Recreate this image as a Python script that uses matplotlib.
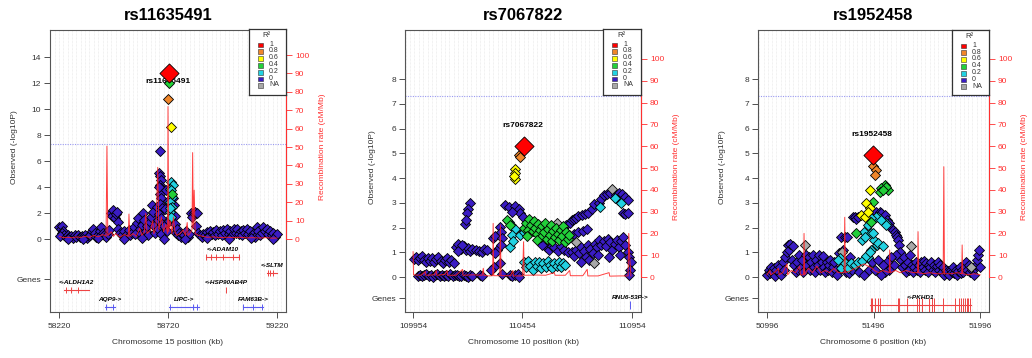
import numpy as np
import matplotlib
matplotlib.use("Agg")
import matplotlib.pyplot as plt
from matplotlib.patches import Rectangle

plt.rcParams['font.family'] = ['Liberation Sans', 'DejaVu Sans']

W, H = 1032, 358

# ---------------- legend categories ----------------
LD_LABELS = ["1", "0.8", "0.6", "0.4", "0.2", "0", "NA"]
LD_COLORS = ['#FF0000', '#F0862A', '#FFFF00', '#22D03A', '#22D2E2', '#3A1CC4', '#A8A8A8']

# ---------------- panel 1 : rs11635491, chr15 ----------------
p1_title = "rs11635491"
p1_chrom = "15"
p1_xticks = [58220, 58720, 59220]
p1_lead = (58725, 12.75)
p1_orange = [(58720, 10.8)]
p1_yellow = [(58734, 8.6)]
p1_green = [(58740, 3.51), (58725, 12.0)]
p1_cyan = [(58732, 4.41), (58741, 4.15), (58729, 3.82), (58737, 3.25), (58729, 2.87),
           (58737, 2.48), (58729, 2.1), (58732, 1.67), (58735, 3.77), (58730, 2.36)]
p1_na = []
p1_blue = [(58222, 0.9), (58228, 0.75), (58234, 1.0), (58238, 0.6), (58232, 0.45), (58244, 0.35),
           (58226, 0.25), (58252, 0.2), (58260, 0.3), (58268, 0.15), (58276, 0.25), (58284, 0.1),
           (58292, 0.3), (58300, 0.2), (58308, 0.35), (58316, 0.15), (58324, 0.25), (58332, 0.2),
           (58340, 0.3), (58348, 0.1), (58356, 0.25), (58364, 0.35), (58372, 0.6), (58378, 0.8),
           (58384, 0.5), (58392, 0.2), (58400, 0.35), (58408, 0.6), (58414, 0.9), (58420, 0.5),
           (58428, 0.3), (58436, 0.15), (58444, 0.4), (58450, 0.7), (58458, 2.02), (58464, 1.77),
           (58469, 2.23), (58476, 1.59), (58480, 1.9), (58485, 2.1), (58490, 1.33), (58492, 0.8),
           (58500, 0.5), (58508, 0.3), (58516, 0.6), (58524, 0.2), (58532, 0.4), (58540, 0.7),
           (58548, 0.3), (58556, 0.5), (58562, 0.9), (58570, 0.4), (58578, 1.26), (58584, 1.59),
           (58590, 0.8), (58596, 0.4), (58602, 1.1), (58607, 2.02), (58612, 1.5), (58618, 0.6),
           (58624, 1.0), (58630, 0.3), (58636, 1.3), (58641, 1.72), (58645, 2.6), (58650, 2.1),
           (58656, 1.0), (58662, 0.5), (58668, 2.48), (58672, 1.5), (58676, 0.8),
           (58680, 5.05), (58684, 4.85), (58688, 4.54), (58682, 4.15), (58690, 3.9), (58684, 3.51),
           (58688, 3.13), (58682, 2.74), (58692, 2.36), (58680, 1.97), (58688, 1.59), (58694, 1.2),
           (58696, 0.82), (58684, 6.77), (58678, 4.03), (58686, 0.4),
           (58700, 1.0), (58706, 2.3), (58712, 3.8), (58716, 0.6), (58718, 2.9), (58724, 1.4),
           (58745, 3.2), (58748, 2.6), (58750, 1.8), (58752, 1.2), (58756, 0.5), (58760, 0.8),
           (58764, 0.3), (58770, 0.5), (58778, 0.2), (58786, 0.4), (58794, 0.3), (58802, 0.6),
           (58810, 0.2), (58818, 0.4), (58825, 2.02), (58832, 1.72), (58839, 2.03), (58845, 2.1),
           (58852, 2.02), (58848, 1.0), (58858, 0.5), (58866, 0.3), (58874, 0.2), (58882, 0.4),
           (58890, 0.3), (58898, 0.55), (58906, 0.3), (58914, 0.6), (58920, 0.4), (58926, 0.56),
           (58934, 0.3), (58942, 0.7), (58950, 0.4), (58958, 0.6), (58966, 0.3), (58974, 0.7),
           (58982, 0.5), (58990, 0.8), (58998, 0.4), (59006, 0.6), (59014, 0.3), (59022, 0.75),
           (59030, 0.5), (59038, 0.8), (59046, 0.4), (59054, 0.65), (59060, 0.3), (59065, 0.74),
           (59072, 0.5), (59080, 0.8), (59088, 0.4), (59096, 0.6), (59104, 0.3), (59112, 0.5),
           (59120, 0.2), (59126, 0.95), (59134, 0.6), (59142, 0.3), (59150, 0.5), (59157, 0.9),
           (59164, 0.6), (59172, 0.75), (59180, 0.4), (59188, 0.6), (59196, 0.3), (59203, 0.48),
           (59210, 0.2), (59218, 0.4), (58260, 0.05), (58330, 0.02), (58400, 0.08), (58520, 0.05),
           (58600, 0.1), (58700, 0.05), (58800, 0.03), (58900, 0.08), (59000, 0.05), (59100, 0.06),
           (59200, 0.04)]
p1_recomb = [(58222, 1.5), (58240, 0.8), (58260, 1.0), (58280, 0.7), (58300, 1.2), (58320, 0.9),
             (58340, 1.5), (58360, 1.0), (58380, 2.0), (58400, 1.2), (58420, 2.5), (58436, 1.5),
             (58440, 50.5), (58444, 2.0), (58460, 4), (58470, 1.5), (58480, 3), (58500, 1.0),
             (58520, 2.5), (58538, 1.5), (58541, 13.6), (58545, 1.5), (58560, 3), (58575, 1.5),
             (58590, 6), (58600, 2), (58612, 4), (58618, 14), (58624, 3), (58640, 5), (58650, 10),
             (58655, 3), (58665, 6), (58673, 39), (58678, 5), (58690, 12), (58700, 4), (58710, 8),
             (58718, 3), (58720, 72), (58723, 4), (58730, 10), (58738, 3), (58745, 12), (58752, 4),
             (58760, 2), (58775, 3), (58790, 5), (58800, 2), (58808, 9), (58812, 2), (58820, 3),
             (58830, 5), (58833, 47), (58836, 6), (58840, 26.6), (58845, 3), (58860, 2),
             (58880, 1.5), (58900, 1.0), (58930, 1.2), (58960, 0.8), (58990, 1.0), (59020, 0.8),
             (59050, 1.0), (59080, 0.7), (59110, 0.8), (59140, 0.6), (59170, 0.8), (59200, 0.5),
             (59220, 0.6)]
p1_genes = [("ADAM10", 58894, 59046, "-", [58893, 58916, 58940, 58974, 59020, 59046]),
            ("SLTM", 59174, 59220, "-", [59178, 59189, 59200]),
            ("ALDH1A2", 58243, 58358, "-", [58252, 58274, 58306]),
            ("HSP90AB4P", 58985, 58987, "-", [58986]),
            ("AQP9", 58431, 58477, "+", [58436, 58469]),
            ("LIPC", 58725, 58862, "+", [58729, 58836, 58852]),
            ("FAM63B", 59064, 59156, "+", [59065, 59111, 59150])]
p1_gene_y = [-1.38, -2.6, -3.9, -3.9, -5.2, -5.2, -5.2]

# ---------------- panel 2 : rs7067822, chr10 ----------------
p2_title = "rs7067822"
p2_chrom = "10"
p2_xticks = [109954, 110454, 110954]
p2_lead = (110459, 5.29)
p2_orange = [(110440, 4.93), (110444, 4.85)]
p2_yellow = [(110420, 4.35), (110422, 4.2), (110418, 3.95), (110416, 4.08)]
p2_green = [(110460, 2.0), (110470, 2.2), (110478, 1.9), (110485, 2.35), (110492, 2.1), (110500, 1.85),
            (110505, 2.25), (110512, 2.0), (110520, 1.75), (110525, 2.15), (110532, 1.9), (110540, 1.6),
            (110545, 2.05), (110552, 1.8), (110558, 2.2), (110565, 1.55), (110570, 1.95), (110578, 1.7),
            (110585, 2.1), (110590, 1.45), (110595, 1.85), (110602, 1.6), (110608, 2.0), (110615, 1.75),
            (110622, 1.5), (110628, 1.9), (110635, 1.65), (110640, 2.05), (110648, 1.4), (110655, 1.8),
            (110662, 1.55), (110668, 1.7), (110520, 1.5), (110475, 1.65), (110384, 2.3), (110395, 2.1)]
p2_cyan = [(110391, 2.23), (110403, 2.1), (110422, 1.95), (110407, 1.7), (110399, 1.22), (110444, 1.70),
           (110463, 1.83), (110410, 1.45), (110460, 0.6), (110470, 0.4), (110480, 0.65), (110490, 0.45),
           (110500, 0.3), (110510, 0.6), (110520, 0.45), (110530, 0.62), (110540, 0.35), (110550, 0.55),
           (110560, 0.42), (110570, 0.65), (110580, 0.5), (110590, 0.35), (110600, 0.58), (110610, 0.45),
           (110620, 0.6), (110630, 0.4), (110640, 0.55), (110650, 0.5), (110810, 2.84), (110878, 3.18),
           (110905, 2.98)]
p2_na = [(110865, 3.54), (110697, 1.43), (110780, 0.56), (110613, 2.2)]
p2_blue = [(109958, 0.72), (109966, 0.82), (109975, 0.68), (109984, 0.78), (109993, 0.85), (110002, 0.7),
           (110012, 0.62), (110022, 0.75), (110032, 0.66), (110040, 0.78), (110048, 0.6), (110060, 0.72),
           (110070, 0.8), (110080, 0.65), (110090, 0.58), (110100, 0.7), (110110, 0.75), (110118, 0.6),
           (110128, 0.68), (110140, 0.55),
           (109975, 0.05), (109985, 0.1), (109995, 0.03), (110005, 0.08), (110015, 0.12), (110025, 0.05),
           (110035, 0.1), (110045, 0.02), (110055, 0.08), (110065, 0.12), (110075, 0.05), (110085, 0.09),
           (110095, 0.03), (110105, 0.1), (110115, 0.06), (110125, 0.12), (110135, 0.04), (110145, 0.08),
           (110155, 0.1), (110165, 0.05), (110175, 0.03), (110185, 0.08), (110195, 0.05), (110205, 0.02),
           (110215, 0.07), (110225, 0.04), (110260, 0.1), (110270, 0.05),
           (110150, 1.2), (110160, 1.35), (110172, 1.15), (110185, 1.25), (110195, 1.1), (110205, 1.18),
           (110215, 1.05), (110225, 1.15), (110240, 1.1), (110255, 1.05), (110268, 1.0), (110280, 1.12),
           (110292, 1.08), (110158, 1.05), (110178, 1.3),
           (110212, 3.0), (110205, 2.75), (110200, 2.57), (110193, 2.14), (110197, 2.3),
           (110318, 1.56), (110327, 1.66), (110338, 1.09), (110330, 0.95), (110322, 0.42), (110310, 0.3),
           (110353, 2.03), (110357, 1.83), (110360, 1.56), (110356, 1.29), (110353, 0.55), (110360, 0.12),
           (110376, 2.91), (110391, 2.84), (110422, 2.87), (110437, 2.73), (110445, 2.57), (110407, 2.64),
           (110455, 2.44), (110395, 0.1), (110407, 0.05), (110420, 0.08), (110432, 0.12), (110440, 0.02),
           (110560, 1.2), (110575, 1.1), (110590, 1.25), (110600, 1.2), (110615, 1.05), (110630, 1.25),
           (110645, 1.1), (110660, 1.0), (110545, 1.3),
           (110610, 1.75), (110625, 1.9), (110640, 2.0), (110655, 2.1), (110670, 2.2), (110680, 2.3),
           (110690, 2.35), (110700, 2.4), (110710, 2.45), (110725, 2.5), (110740, 2.55), (110755, 2.6),
           (110770, 2.75), (110782, 2.95),
           (110650, 1.6), (110665, 1.7), (110690, 1.75), (110710, 1.8), (110730, 1.85), (110748, 1.95),
           (110803, 3.0), (110815, 3.15), (110825, 3.3), (110840, 3.35), (110855, 3.4), (110880, 3.3),
           (110895, 3.4), (110910, 3.35), (110925, 3.25), (110935, 3.1), (110915, 2.6), (110925, 2.55),
           (110935, 2.6), (110890, 3.1),
           (110680, 1.0), (110690, 0.85), (110700, 1.1), (110712, 0.95), (110722, 1.2), (110735, 1.05),
           (110745, 0.8), (110755, 1.3), (110765, 1.15), (110775, 0.95), (110785, 1.35), (110795, 1.2),
           (110805, 1.5), (110815, 1.3), (110825, 1.45), (110835, 1.25), (110845, 1.55), (110855, 1.4),
           (110865, 1.1), (110875, 1.35), (110885, 1.5), (110895, 1.2), (110905, 1.45), (110915, 1.6),
           (110925, 1.3), (110935, 1.0), (110942, 0.8), (110948, 0.6), (110945, 0.3), (110940, 0.1),
           (110760, 0.7), (110800, 0.9), (110850, 0.8), (110900, 0.9), (110720, 0.6)]
p2_recomb = [(109954, 11.6), (109956, 1), (109990, 0.8), (110010, 2.5), (110012, 0.8), (110050, 1),
             (110060, 3), (110062, 0.8), (110100, 1.2), (110110, 3), (110112, 0.8), (110150, 0.8),
             (110180, 3.5), (110182, 0.8), (110230, 1), (110270, 0.8), (110275, 4), (110278, 0.8),
             (110300, 0.5), (110318, 0.6), (110320, 24.6), (110323, 0.6), (110340, 0.6), (110350, 0.6),
             (110353, 23.9), (110356, 0.6), (110400, 0.6), (110410, 3), (110413, 0.5), (110455, 0.5),
             (110459, 16.2), (110462, 0.8), (110520, 0.9), (110560, 0.8), (110600, 2), (110603, 0.8),
             (110650, 0.8), (110670, 3), (110673, 0.6), (110730, 0.6), (110750, 3.5), (110753, 0.5),
             (110800, 0.5), (110850, 2), (110853, 0.4), (110900, 0.5), (110937, 0.5), (110940, 20),
             (110945, 8), (110950, 0.5)]
p2_genes = [("RNU6-53P", 110944, 110947, "+", [110945])]
p2_gene_y = [-1.13]

# ---------------- panel 3 : rs1952458, chr6 ----------------
p3_title = "rs1952458"
p3_chrom = "6"
p3_xticks = [50996, 51496, 51996]
p3_lead = (51494, 4.93)
p3_orange = [(51494, 4.48), (51509, 4.32), (51505, 4.12)]
p3_yellow = [(51478, 3.52), (51462, 2.98), (51478, 2.77), (51439, 2.5), (51455, 2.44), (51470, 2.64)]
p3_green = [(51549, 3.72), (51533, 3.58), (51565, 3.52), (51555, 3.62), (51527, 3.45), (51494, 3.04),
            (51483, 2.24), (51415, 1.79), (51540, 3.5)]
p3_cyan = [(51337, 0.75), (51345, 0.35), (51360, 0.55), (51376, 0.35), (51392, 0.55), (51408, 0.48),
           (51423, 0.62), (51443, 0.66), (51470, 0.82), (51485, 1.09), (51496, 1.49), (51512, 1.29),
           (51441, 1.49), (51451, 1.83), (51482, 1.76), (51515, 2.44), (51554, 2.17), (51509, 2.44),
           (51532, 2.3), (51556, 2.1), (51486, 2.37), (51470, 2.1), (51494, 1.76), (51455, 1.63),
           (51517, 1.37), (51540, 1.24), (51329, 0.69), (51462, 0.85), (51478, 1.0)]
p3_na = [(51173, 1.29), (51671, 1.27), (51350, 1.02), (51955, 0.42)]
p3_blue = [(50998, 0.1), (51004, 0.3), (51010, 0.15), (51016, 0.4), (51022, 0.2), (51028, 0.35),
           (51034, 0.05), (51040, 0.3), (51046, 0.5), (51052, 0.2), (51058, 0.4), (51064, 0.1),
           (51070, 0.6), (51076, 0.3), (51082, 0.8), (51088, 1.0), (51095, 1.3), (51100, 1.1),
           (51105, 1.35), (51112, 0.7), (51118, 1.25), (51124, 0.5), (51130, 0.2), (51136, 0.6),
           (51142, 0.3), (51148, 0.9), (51154, 0.4), (51160, 0.7), (51166, 0.2), (51180, 0.9),
           (51186, 0.5), (51192, 0.8), (51198, 0.3), (51204, 0.6), (51210, 0.9), (51216, 0.4),
           (51222, 0.2), (51228, 0.7), (51234, 0.5), (51240, 0.9), (51246, 0.3), (51252, 0.6),
           (51258, 0.85), (51264, 0.4), (51270, 0.2), (51276, 0.6), (51282, 0.3), (51288, 0.5),
           (51294, 0.7), (51300, 0.2), (51306, 0.4), (51312, 0.6), (51318, 0.3), (51324, 0.1),
           (51335, 0.95), (51345, 1.63), (51353, 1.09), (51360, 1.63), (51372, 1.6), (51365, 0.2),
           (51380, 0.15), (51385, 0.8), (51395, 0.3), (51400, 2.44), (51408, 2.44), (51416, 2.35),
           (51423, 2.44), (51430, 0.2), (51450, 0.1), (51475, 0.3), (51490, 0.6), (51509, 2.64),
           (51525, 2.64), (51532, 2.6), (51548, 2.5), (51560, 2.3), (51571, 2.17), (51580, 2.0),
           (51587, 1.9), (51595, 1.8), (51602, 1.7), (51606, 1.6), (51610, 1.49), (51618, 1.29),
           (51622, 1.0), (51626, 0.7), (51600, 0.9), (51590, 0.5), (51580, 0.8), (51570, 0.3),
           (51560, 0.6), (51550, 0.2), (51540, 0.5), (51530, 0.1), (51515, 0.7), (51505, 0.3),
           (51632, 0.4), (51638, 0.8), (51644, 0.5), (51650, 0.2), (51656, 0.6), (51666, 0.89),
           (51662, 0.3), (51676, 0.5), (51682, 0.2), (51688, 0.4), (51694, 0.6), (51700, 0.3),
           (51708, 0.5), (51714, 0.2), (51720, 0.6), (51726, 0.4), (51732, 0.65), (51738, 0.3),
           (51744, 0.55), (51750, 0.2), (51756, 0.5), (51762, 0.4), (51768, 0.6), (51774, 0.3),
           (51780, 0.5), (51786, 0.2), (51792, 0.45), (51798, 0.6), (51804, 0.3), (51810, 0.5),
           (51816, 0.2), (51822, 0.4), (51828, 0.1), (51834, 0.3), (51840, 0.15), (51846, 0.25),
           (51852, 0.1), (51858, 0.3), (51864, 0.2), (51870, 0.4), (51876, 0.15), (51882, 0.3),
           (51888, 0.1), (51894, 0.25), (51900, 0.4), (51906, 0.15), (51912, 0.3), (51918, 0.2),
           (51924, 0.4), (51930, 0.6), (51936, 0.3), (51942, 0.5), (51948, 0.2), (51960, 0.3),
           (51966, 0.1), (51972, 0.35), (51978, 0.5), (51984, 0.7), (51987, 0.89), (51991, 1.09),
           (51994, 0.4)]
p3_recomb = [(50996, 1), (51010, 3), (51013, 1), (51030, 2), (51050, 4), (51053, 1), (51070, 2),
             (51090, 6), (51093, 1), (51110, 3), (51130, 2), (51150, 5), (51153, 1), (51168, 1),
             (51170, 20), (51173, 1), (51190, 4), (51210, 2), (51230, 5), (51250, 2), (51270, 3),
             (51290, 2), (51310, 4), (51330, 2), (51358, 2), (51361, 27.4), (51364, 2), (51390, 3),
             (51410, 4), (51430, 5), (51450, 6), (51470, 5), (51490, 4), (51500, 3), (51520, 2),
             (51540, 3), (51570, 2), (51572, 12.4), (51575, 2), (51600, 3), (51620, 2), (51650, 3),
             (51680, 2), (51703, 2), (51705, 20.8), (51708, 2), (51730, 1.5), (51760, 2), (51790, 1.5),
             (51823, 1.5), (51826, 50.6), (51829, 1.5), (51860, 1.5), (51890, 2), (51910, 1.5),
             (51912, 14.7), (51915, 1.5), (51940, 1), (51970, 1.5), (51996, 1)]
p3_genes = [("PKHD1", 51480, 51954, "-",
             [51483, 51491, 51502, 51515, 51526, 51609, 51615, 51651, 51698, 51709, 51722, 51756,
              51769, 51781, 51824, 51879, 51895, 51907, 51918, 51926, 51934, 51941, 51949])]
p3_gene_y = [-1.13]

# ---------------- drawing ----------------
fig = plt.figure(figsize=(W / 100, H / 100), dpi=100)


def frac(x, y, w, h):
    return [x / W, 1 - (y + h) / H, w / W, h / H]


TXT = '#333333'
DIAMOND_S = 26


def draw_panel(box, title, chrom, xticks, xlim, ylim, yticks, genes_tick, rlim,
               groups, lead, rec, genes, gene_y, exon_h, lead_label_y, lead_label_under,
               legend_box, ylab_x, rlab_x, lab_yc):
    ax = fig.add_axes(frac(*box))
    ax.set_xlim(xlim)
    ax.set_ylim(ylim)
    # light background grid
    for gx in np.arange(np.ceil(xlim[0] / 20) * 20, xlim[1], 20):
        ax.axvline(gx, color='#E4E4E4', lw=0.5, ls=(0, (1, 1)), zorder=0)
    ax.axhline(7.3, color='#9A9AF0', lw=0.8, ls=(0, (1, 1.2)), zorder=1)

    # snps
    for pts, col in groups:
        if not pts:
            continue
        x, y = zip(*pts)
        ax.scatter(x, y, s=DIAMOND_S, marker='D', c=col, edgecolors='black',
                   linewidths=0.6, zorder=3)
    ax.text(lead[0] - 5, lead_label_y, title, ha='center', va='center', fontsize=6,
            fontweight='bold', color='black', zorder=2.5 if lead_label_under else 5)
    ax.scatter([lead[0]], [lead[1]], s=95, marker='D', c=LD_COLORS[0], edgecolors='black',
               linewidths=0.6, zorder=4)

    # genes
    for (name, g0, g1, strand, exons), gy in zip(genes, gene_y):
        col = '#EE4444' if strand == '-' else '#5A5AF0'
        ax.plot([g0, g1], [gy, gy], color=col, lw=0.8, zorder=2)
        ax.vlines(exons, gy - exon_h, gy + exon_h, color=col, lw=0.7, zorder=2)
        lab = ("<-" + name) if strand == '-' else (name + "->")
        ax.text((g0 + g1) / 2, gy + (ylim[1] - ylim[0]) * 0.018, lab, ha='center', va='bottom',
                fontsize=4.6, fontstyle='italic', fontweight='bold', color='black', zorder=5)

    ax.set_xticks(xticks)
    ax.set_xticklabels([str(v) for v in xticks])
    ax.set_yticks(list(yticks) + [genes_tick])
    ax.set_yticklabels([str(v) for v in yticks] + ['Genes'])
    ax.tick_params(axis='both', labelsize=6, colors=TXT, length=4, width=0.6, pad=2.5)
    ax.tick_params(axis='x', pad=4)
    for sp in ax.spines.values():
        sp.set_color('#555555')
        sp.set_linewidth(0.8)

    # recombination rate
    ax2 = ax.twinx()
    ax2.set_ylim(rlim)
    rx, ry = zip(*rec)
    ax2.plot(rx, ry, color='#FF2020', lw=0.7, alpha=0.85, zorder=3)
    ax2.set_yticks(range(0, 101, 10))
    ax2.tick_params(axis='y', labelsize=6, colors='#FF3030', length=4, width=0.6, pad=2.5)
    for k in ('left', 'top', 'bottom'):
        ax2.spines[k].set_visible(False)
    ax2.spines['right'].set_color('#FF3030')
    ax2.spines['right'].set_bounds(0, 100)
    ax2.spines['right'].set_linewidth(0.8)

    # titles and labels
    bx, by, bw, bh = box
    fig.text((bx + bw / 2) / W, 1 - 15 / H, title, ha='center', va='center',
             fontsize=12, fontweight='bold', color='black')
    fig.text((bx + bw / 2) / W, 1 - 343 / H, "Chromosome %s position (kb)" % chrom,
             ha='center', va='center', fontsize=6, color=TXT)
    fig.text(ylab_x / W, 1 - lab_yc / H, "Observed (-log10P)", rotation=90,
             ha='center', va='center', fontsize=6, color=TXT)
    fig.text(rlab_x / W, 1 - lab_yc / H, "Recombination rate (cM/Mb)", rotation=90,
             ha='center', va='center', fontsize=6, color='#FF3030')

    # legend
    lx, ly, lw_, lh = legend_box
    lg = fig.add_axes(frac(lx, ly, lw_, lh))
    lg.set_xlim(0, lw_)
    lg.set_ylim(lh, 0)
    lg.set_xticks([])
    lg.set_yticks([])
    lg.patch.set_facecolor('white')
    for sp in lg.spines.values():
        sp.set_color('#333333')
        sp.set_linewidth(0.9)
    lg.text(lw_ / 2 - 1, 6.5, "R²", ha='center', va='center', fontsize=5.5, color=TXT)
    for i, (lab, col) in enumerate(zip(LD_LABELS, LD_COLORS)):
        yc = 16 + i * 6.8
        lg.add_patch(Rectangle((8.5, yc - 2.4), 5, 4.8, facecolor=col, edgecolor='#333333',
                               linewidth=0.4))
        lg.text(20, yc - 0.8, lab, ha='left', va='center', fontsize=5, color=TXT,
                linespacing=0.8)
    return ax


def groups_of(blue, na, cyan, green, yellow, orange):
    return [(blue, LD_COLORS[5]), (na, LD_COLORS[6]), (cyan, LD_COLORS[4]),
            (green, LD_COLORS[3]), (yellow, LD_COLORS[2]), (orange, LD_COLORS[1])]


draw_panel((50, 30, 236, 282), p1_title, p1_chrom, p1_xticks, (58179, 59261), (-5.6, 16.08),
           range(0, 15, 2), -3.08, (-39.6, 113.6),
           groups_of(p1_blue, p1_na, p1_cyan, p1_green, p1_yellow, p1_orange),
           p1_lead, p1_recomb, p1_genes, p1_gene_y, 0.22, 12.15, True,
           (249, 29, 37, 66), 15, 323, 147)

draw_panel((405, 30, 236, 282), p2_title, p2_chrom, p2_xticks, (109917, 110996), (-1.414, 9.98),
           range(0, 9), -0.85, (-16.05, 113.3),
           groups_of(p2_blue, p2_na, p2_cyan, p2_green, p2_yellow, p2_orange),
           p2_lead, p2_recomb, p2_genes, p2_gene_y, 0.15, 6.14, False,
           (603, 29, 38, 66), 372, 677, 167)

draw_panel((758, 30, 231, 282), p3_title, p3_chrom, p3_xticks, (50954, 52038), (-1.414, 9.98),
           range(0, 9), -0.85, (-16.05, 113.3),
           groups_of(p3_blue, p3_na, p3_cyan, p3_green, p3_yellow, p3_orange),
           p3_lead, p3_recomb, p3_genes, p3_gene_y, 0.28, 5.77, False,
           (952, 30, 37, 65), 723, 1025, 167)

fig.savefig("out.png", dpi=100)
